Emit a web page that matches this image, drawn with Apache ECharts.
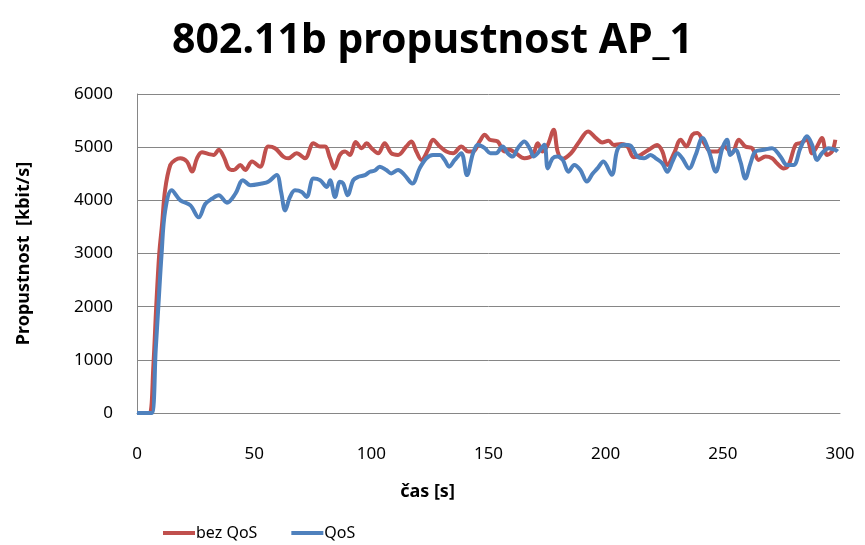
<!DOCTYPE html>
<html>
<head>
<meta charset="utf-8">
<script src="https://cdn.jsdelivr.net/npm/echarts@6/dist/echarts.min.js"></script>
<style>
  html, body { margin: 0; padding: 0; background: #fff; }
  #chart { width: 865px; height: 545px; }
</style>
</head>
<body>
<div id="chart"></div>
<script>
// Throughput of AP_1 over time, with and without QoS (time in s, kbit/s)
const bezQosTime = [0, 2, 4, 5.5, 7, 8.2, 9.5, 10.7, 12, 14.2, 16.4, 18.5, 21.3, 23.5, 25.6, 27.7, 30.6, 32.7, 34.9, 37.3, 39.1, 41.3, 44.1, 46.2, 49.1,
  52.5, 56, 58.9, 62.5, 64.6, 68.1, 71.7, 75.3, 78.1, 80.2, 82.4, 84.2, 86.6, 88.8, 90.9, 93.3, 95.9, 98, 100.1,
  102.9, 105.7, 108.5, 111.4, 114.9, 117.1, 119.2, 121.4, 124.2, 126.3, 129.2, 132, 134.9, 138.4, 141.3, 143.4, 146.2, 148.4, 150.5,
  153.9, 156.8, 158.9, 161.7, 165.3, 168.9, 171, 173.1, 175.3, 177.8, 179.5, 181.5, 185.2, 188.8, 192.5, 195.9, 198.5, 201.2,
  203.5, 206.6, 209.3, 212, 214.9, 218.7, 222, 224.2, 226.3, 229.2, 232, 234.4, 237, 239.1, 242, 244.8, 247.7, 250.5,
  253.9, 256.8, 259.6, 262.5, 265.3, 268.2, 271, 273.1, 276, 278.1, 281, 283.1, 285.9, 288.1, 290.2, 292.3, 294.5, 296.6, 298];
const bezQosValues = [0, 0, 0, 0, 900, 2000, 3000, 3550, 4200, 4665, 4760, 4790, 4730, 4540, 4790, 4905, 4870, 4855, 4950, 4790, 4600, 4570, 4665, 4570, 4730,
  4630, 5013, 4980, 4820, 4790, 4885, 4790, 5075, 5013, 5013, 4790, 4600, 4855, 4918, 4855, 5095, 4980, 5075, 4980,
  4885, 5075, 4885, 4855, 5013, 5108, 4918, 4760, 4950, 5140, 5013, 4918, 4885, 5013, 4918, 4918, 5108, 5234, 5140,
  5108, 4918, 4950, 4886, 4791, 4854, 5076, 4918, 5044, 5329, 4918, 4780, 4886, 5108, 5297, 5171, 5090, 5120,
  5040, 5060, 5013, 4810, 4854, 4960, 5040, 4918, 4665, 4886, 5140, 5013, 5234, 5266, 5076, 4918, 4918, 5013,
  4886, 5140, 5013, 4981, 4760, 4823, 4791, 4696, 4601, 4665, 5044, 5076, 5140, 4886, 5013, 5171, 4854, 4918, 5140];

const qosTime = [0, 2, 4, 6.3, 8, 9.1, 10.5, 12, 14.8, 18.5, 22.8, 26.3, 29.2, 32, 34.9, 38.4, 42, 45.2, 48.4,
  53.2, 56, 59.6, 61.5, 63.2, 65.3, 67.4, 70.3, 72.4, 75.3, 78.1, 81, 82.4, 84.5, 86.6, 88, 89.9, 92.3, 94.5, 97.3, 99.4,
  101.5, 103.6, 106.4, 108.5, 111.4, 114.2, 117.5, 120.6, 123.5, 126.3, 129.2, 131.3, 133.2, 135.6, 138.4, 140.8, 143.4, 145.5, 148.4, 150.8,
  153.2, 156, 158.2, 160.3, 162.5, 165.3, 167.9, 169.2, 171, 173.8, 175.3, 177.4, 179.5, 181.7, 184.1, 186.6, 189.2, 192, 194.5, 196.5, 199, 202.6,
  205, 207.6, 210.5, 213.5, 216.4, 219.2, 221.4, 224.2, 226.3, 228.5, 230.6, 232.7, 235.6, 238.4, 241.3, 244.1, 247, 249.8, 251.8,
  253.2, 255.4, 257.5, 259.6, 261.8, 263.9, 267.4, 271, 274.6, 277.4, 280.2, 283.1, 285.9, 288.1, 290.2, 292.3, 295.2, 298, 299];
const qosValues = [0, 0, 0, 0, 1200, 2000, 3000, 3800, 4190, 4000, 3905, 3680, 3935, 4030, 4095, 3955, 4125, 4380, 4285,
  4316, 4348, 4475, 4158, 3810, 4063, 4190, 4158, 4063, 4411, 4380, 4253, 4380, 4063, 4348, 4316, 4095, 4380, 4443, 4475, 4538,
  4560, 4633, 4570, 4506, 4570, 4475, 4316, 4601, 4791, 4854, 4854, 4760, 4633, 4760, 4886, 4475, 4886, 5044, 4981, 4886,
  4886, 5013, 4886, 4823, 4981, 5108, 4950, 4823, 4886, 5044, 4601, 4791, 4823, 4760, 4538, 4665, 4570, 4353, 4506, 4600, 4730, 4480,
  4950, 5044, 5030, 4823, 4791, 4854, 4791, 4696, 4538, 4728, 4886, 4791, 4601, 4854, 5171, 4918, 4538, 4981, 5140,
  4854, 4950, 4728, 4411, 4696, 4918, 4950, 4981, 4823, 4665, 4665, 4981, 5203, 5044, 4760, 4886, 4981, 4950, 4918];

const seriesNames = ['bez QoS', 'QoS'];
const seriesColors = ['#C0504D', '#4F81BD'];

const zip = (t, v) => t.map((x, i) => [x, v[i]]);

const textFont = '"Noto Sans", sans-serif';
const chart = echarts.init(document.getElementById('chart'));
chart.setOption({
  animation: false,
  backgroundColor: '#fff',
  textStyle: { fontFamily: textFont },
  title: {
    text: '802.11b propustnost AP_1',
    left: 'center',
    top: 16,
    textStyle: { fontSize: 41, fontWeight: 'bold', color: '#000', fontFamily: textFont }
  },
  grid: { left: 137, right: 25, top: 94, bottom: 132 },
  legend: {
    left: 158,
    top: 520,
    itemWidth: 32,
    itemHeight: 4,
    itemGap: 34,
    icon: 'rect',
    textStyle: { fontSize: 16, color: '#000', padding: [0, 0, 0, -4] },
    data: seriesNames
  },
  xAxis: {
    type: 'value',
    min: 0,
    max: 300,
    interval: 50,
    name: 'čas [s]',
    nameLocation: 'middle',
    nameGap: 70,
    nameTextStyle: { fontSize: 18, fontWeight: 'bold', color: '#000', padding: [0, 122, 0, 0] },
    axisLine: { lineStyle: { color: '#868686', width: 1 } },
    axisTick: { show: false },
    axisLabel: { fontSize: 17, color: '#000', margin: 33 },
    splitLine: { show: false }
  },
  yAxis: {
    type: 'value',
    min: 0,
    max: 6000,
    interval: 1000,
    name: 'Propustnost  [kbit/s]',
    nameLocation: 'middle',
    nameGap: 104,
    nameTextStyle: { fontSize: 18, fontWeight: 'bold', color: '#000' },
    axisLine: { show: true, lineStyle: { color: '#868686', width: 1 } },
    axisTick: { show: false },
    axisLabel: { fontSize: 17, color: '#000', margin: 24, formatter: (v) => String(v) },
    splitLine: { lineStyle: { color: '#868686', width: 1 } }
  },
  series: [
    {
      name: seriesNames[0],
      type: 'line',
      data: zip(bezQosTime, bezQosValues),
      smooth: 0.35,
      showSymbol: false,
      symbol: 'none',
      lineStyle: { width: 4, color: seriesColors[0] },
      itemStyle: { color: seriesColors[0] },
      z: 2
    },
    {
      name: seriesNames[1],
      type: 'line',
      data: zip(qosTime, qosValues),
      smooth: 0.35,
      showSymbol: false,
      symbol: 'none',
      lineStyle: { width: 4, color: seriesColors[1] },
      itemStyle: { color: seriesColors[1] },
      z: 3
    }
  ]
});
</script>
</body>
</html>
